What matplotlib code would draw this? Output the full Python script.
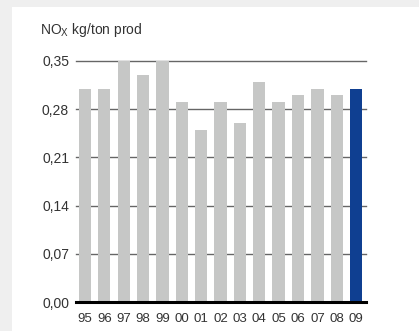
import matplotlib
matplotlib.use('Agg')
import matplotlib.pyplot as plt
from matplotlib.patches import Rectangle

# data
years = ['95', '96', '97', '98', '99', '00', '01', '02', '03', '04', '05', '06', '07', '08', '09']
nox = [0.31, 0.31, 0.35, 0.33, 0.35, 0.29, 0.25, 0.29, 0.26, 0.32, 0.29, 0.30, 0.31, 0.30, 0.31]
y_ticks = [0.0, 0.07, 0.14, 0.21, 0.28, 0.35]

plt.rcParams['font.family'] = ['Liberation Sans', 'DejaVu Sans']

fig = plt.figure(figsize=(4.19, 3.31), dpi=100, facecolor='#efefef')
# white panel behind the chart
fig.patches.append(Rectangle((12 / 419, 0), 1, 1 - 7 / 331, transform=fig.transFigure,
                             facecolor='white', edgecolor='none', zorder=-5))

ax = fig.add_axes([76 / 419, 1 - 302 / 331, 290 / 419, 241 / 331])
ax.set_facecolor('none')

colors = ['#c6c7c6'] * (len(years) - 1) + ['#0f3f91']
x = list(range(len(years)))
ax.bar(x, nox, width=0.635, color=colors, zorder=1)

ax.set_xlim(-0.46, 14.51)
ax.set_ylim(0, 0.35)
ax.set_yticks(y_ticks)
ax.set_yticklabels([('%.2f' % v).replace('.', ',') for v in y_ticks], fontsize=10, color='#333333')
for v in y_ticks[1:]:
    ax.axhline(v, color='#666666', linewidth=1.0, zorder=0, clip_on=False)
ax.axhline(0, color='black', linewidth=2.2, zorder=3, clip_on=False)
ax.tick_params(axis='y', length=0, pad=5)

ax.set_xticks(x)
ax.set_xticklabels(years, fontsize=9.5, color='#333333', family=['Liberation Sans Narrow', 'Liberation Sans'])
ax.tick_params(axis='x', length=0, pad=8)

for s in ax.spines.values():
    s.set_visible(False)

fig.text(40 / 419, 1 - 34 / 331, 'NO$_\\mathregular{X}$ kg/ton prod', fontsize=10, color='#333333')

fig.savefig('out.png', dpi=100, facecolor=fig.get_facecolor())
